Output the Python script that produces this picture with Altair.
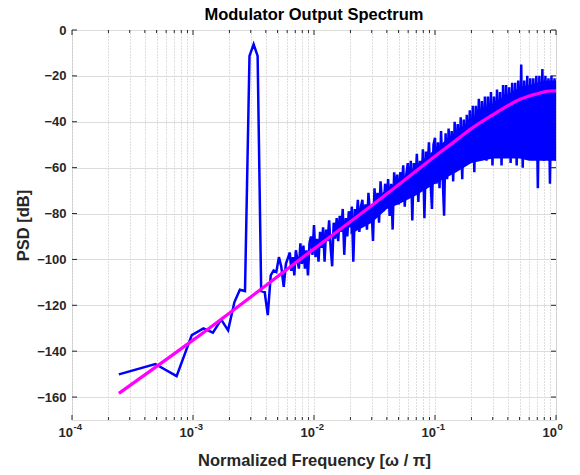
import altair as alt
import pandas as pd

FONT = "Liberation Sans"
INK = "#262626"

# ---- data ----
# sparse low-frequency FFT bins (normalized frequency, PSD dB)
low_freq = [2.44e-4, 4.88e-4, 7.32e-4, 9.77e-4, 1.22e-3, 1.46e-3, 1.71e-3, 1.95e-3,
            2.20e-3, 2.44e-3, 2.69e-3, 2.93e-3, 3.17e-3, 3.42e-3, 3.66e-3, 3.91e-3,
            4.15e-3, 4.39e-3, 4.64e-3, 4.88e-3, 5.13e-3, 5.37e-3, 5.62e-3, 5.86e-3]
low_psd = [-150.1, -145.6, -150.9, -133.0, -130.1, -131.9, -126.2, -130.9,
           -118.6, -113.2, -113.8, -11.3, -6.2, -11.3, -113.8, -114.2,
           -124.3, -107.0, -104.8, -105.5, -99.0, -103.3, -112.0, -101.9]

# dense noisy part (peaks and dips)
dense_freq = [
    0.006310, 0.006494, 0.006683, 0.006879, 0.007079, 0.007286, 0.007499, 0.007718,
    0.007943, 0.008175, 0.008414, 0.008660, 0.008913, 0.009173, 0.009441, 0.009716,
    0.01000, 0.01029, 0.01059, 0.01090, 0.01122, 0.01155, 0.01189, 0.01223,
    0.01259, 0.01296, 0.01334, 0.01373, 0.01413, 0.01454, 0.01496, 0.01540,
    0.01585, 0.01631, 0.01679, 0.01728, 0.01778, 0.01831, 0.01884, 0.01939,
    0.01995, 0.02054, 0.02113, 0.02176, 0.02239, 0.02304, 0.02371, 0.02441,
    0.02512, 0.02586, 0.02661, 0.02739, 0.02818, 0.02901, 0.02985, 0.03073,
    0.03162, 0.03255, 0.03350, 0.03448, 0.03548, 0.03652, 0.03758, 0.03869,
    0.03981, 0.04098, 0.04217, 0.04341, 0.04467, 0.04597, 0.04732, 0.04870,
    0.05012, 0.05158, 0.05309, 0.05464, 0.05623, 0.05788, 0.05957, 0.06131,
    0.06310, 0.06494, 0.06683, 0.06879, 0.07079, 0.07286, 0.07499, 0.07718,
    0.07943, 0.08175, 0.08414, 0.08660, 0.08913, 0.09173, 0.09441, 0.09716,
    0.1000, 0.1029, 0.1059, 0.1090, 0.1122, 0.1155, 0.1189, 0.1223,
    0.1259, 0.1296, 0.1334, 0.1373, 0.1413, 0.1454, 0.1496, 0.1540,
    0.1585, 0.1631, 0.1679, 0.1728, 0.1778, 0.1831, 0.1884, 0.1939,
    0.1995, 0.2054, 0.2113, 0.2176, 0.2239, 0.2304, 0.2371, 0.2441,
    0.2512, 0.2586, 0.2661, 0.2739, 0.2818, 0.2901, 0.2985, 0.3073,
    0.3162, 0.3255, 0.3350, 0.3448, 0.3548, 0.3652, 0.3758, 0.3869,
    0.3981, 0.4098, 0.4217, 0.4341, 0.4467, 0.4597, 0.4732, 0.4870,
    0.5012, 0.5158, 0.5309, 0.5464, 0.5623, 0.5788, 0.5957, 0.6131,
    0.6310, 0.6494, 0.6683, 0.6879, 0.7079, 0.7286, 0.7499, 0.7718,
    0.7943, 0.8175, 0.8414, 0.8660, 0.8913, 0.9173, 0.9441, 0.9716, 1.0]
dense_psd = [
    -97, -105, -99, -107, -96, -100, -104, -93,
    -102, -94, -104, -96, -107, -93, -90, -98,
    -85, -99, -91, -101, -88, -95, -86, -101,
    -87, -92, -83, -95, -103, -84, -91, -82,
    -92, -81, -88, -78, -98, -82, -90, -79,
    -86, -77, -101, -78, -83, -74, -88, -77,
    -74, -85, -76, -87, -71, -80, -77, -92,
    -69, -79, -71, -84, -66, -75, -79, -67,
    -76, -65, -81, -67, -87, -62, -72, -63,
    -76, -62, -69, -59, -77, -63, -58, -72,
    -57, -83, -58, -68, -54, -75, -57, -69,
    -52, -82, -53, -62, -49, -65, -78, -50,
    -47, -67, -49, -69, -44, -63, -81, -45,
    -65, -43, -61, -44, -66, -40, -60, -41,
    -60, -38, -65, -39, -59, -37, -56, -35,
    -57, -33, -62, -33, -53, -30, -55, -31,
    -53, -29, -57, -29, -52, -27, -59, -29,
    -51, -26, -53, -27, -59, -24, -50, -24,
    -51, -25, -58, -23, -52, -23, -59, -22,
    -54, -15, -60, -22, -51, -20, -55, -21,
    -55, -21, -50, -20, -69, -20, -52, -17,
    -57, -20, -52, -21, -67, -20, -54, -21, -57]

# solid core of the noise band
band_freq = [0.02, 0.03, 0.04, 0.05, 0.07, 0.1, 0.15, 0.2, 0.3, 0.4, 0.5, 0.6, 0.7, 0.8, 0.9, 1.0]
band_hi = [-83, -76, -69, -66, -59, -52, -44, -39, -32, -28, -25, -24, -23, -22, -22, -22]
band_lo = [-89, -84, -78, -76, -72, -67, -62, -58, -56, -56, -56, -57, -57, -57, -57, -57]

# theoretical noise shaping curve (magenta)
ntf_freq = [2.44e-4, 1e-3, 1e-2, 3e-2, 0.05, 0.1, 0.15, 0.2, 0.3, 0.4, 0.5, 0.6, 0.7, 0.8, 0.9, 1.0]
ntf_psd = [-158.4, -135.2, -95.4, -76.5, -67.5, -55.0, -48.0, -43.0, -37.0, -33.0,
           -30.3, -28.8, -27.8, -27.0, -26.6, -26.5]

# axes
x_decades = [1e-4, 1e-3, 1e-2, 1e-1, 1.0]
x_exponents = ["-4", "-3", "-2", "-1", "0"]
x_minor = [m * d for d in [1e-4, 1e-3, 1e-2, 1e-1] for m in range(2, 10)]
y_ticks = [-160, -140, -120, -100, -80, -60, -40, -20, 0]

W, H = 484, 390

spec_df = pd.DataFrame({"f": low_freq + dense_freq, "psd": low_psd + dense_psd})
band_df = pd.DataFrame({"f": band_freq, "hi": band_hi, "lo": band_lo})
ntf_df = pd.DataFrame({"f": ntf_freq, "psd": ntf_psd})
xlab_df = pd.DataFrame({"f": x_decades, "e": x_exponents, "b": ["10"] * len(x_decades)})

xscale = alt.Scale(type="log", domain=[1e-4, 1])
yscale = alt.Scale(domain=[-170, 0])

x_axis = alt.Axis(
    values=x_decades + x_minor,
    grid=True, gridDash=[1, 2], gridColor="#bdbdbd", gridWidth=1,
    tickSize=0, domain=False, labels=False,
    title="Normalized Frequency [ω / π]", titleFont=FONT, titleFontSize=16.5,
    titleFontWeight="bold", titleColor=INK, titlePadding=32,
)
y_axis = alt.Axis(
    values=y_ticks, grid=True, gridColor="#dcdcdc", gridWidth=1,
    tickSize=0, domain=False,
    labelFont=FONT, labelFontSize=13, labelFontWeight="bold", labelColor=INK, labelPadding=6,
    title="PSD [dB]", titleFont=FONT, titleFontSize=16.5, titleFontWeight="bold",
    titleColor=INK, titlePadding=5,
)

band = alt.Chart(band_df).mark_area(color="#0000ff", opacity=1, clip=True).encode(
    x=alt.X("f:Q", scale=xscale, axis=x_axis),
    y=alt.Y("hi:Q", scale=yscale, axis=y_axis),
    y2="lo:Q",
)
spec = alt.Chart(spec_df).mark_line(color="#0000ff", strokeWidth=2.5, clip=True).encode(
    x=alt.X("f:Q", scale=xscale), y=alt.Y("psd:Q", scale=yscale)
)
ntf = alt.Chart(ntf_df).mark_line(color="#ff00ff", strokeWidth=3.2, interpolate="monotone", clip=True).encode(
    x=alt.X("f:Q", scale=xscale), y=alt.Y("psd:Q", scale=yscale)
)

# x tick labels: base "10" and superscript exponent
xlab_base = alt.Chart(xlab_df).mark_text(
    font=FONT, fontSize=13, fontWeight="bold", color=INK, align="right", baseline="alphabetic", dx=1
).encode(x=alt.X("f:Q", scale=xscale), y=alt.value(H + 17), text="b:N")
xlab_exp = alt.Chart(xlab_df).mark_text(
    font=FONT, fontSize=9.5, fontWeight="bold", color=INK, align="left", baseline="alphabetic", dx=1.5
).encode(x=alt.X("f:Q", scale=xscale), y=alt.value(H + 10), text="e:N")

xmaj_df = pd.DataFrame({"f": x_decades})
xmin_df = pd.DataFrame({"f": x_minor})
yt_df = pd.DataFrame({"v": y_ticks})

tick_style = dict(color=INK, strokeWidth=1)
ticks = [
    alt.Chart(xmaj_df).mark_rule(**tick_style).encode(x=alt.X("f:Q", scale=xscale), y=alt.value(H), y2=alt.value(H - 5)),
    alt.Chart(xmaj_df).mark_rule(**tick_style).encode(x=alt.X("f:Q", scale=xscale), y=alt.value(0), y2=alt.value(5)),
    alt.Chart(xmin_df).mark_rule(**tick_style).encode(x=alt.X("f:Q", scale=xscale), y=alt.value(H), y2=alt.value(H - 3)),
    alt.Chart(xmin_df).mark_rule(**tick_style).encode(x=alt.X("f:Q", scale=xscale), y=alt.value(0), y2=alt.value(3)),
    alt.Chart(yt_df).mark_rule(**tick_style).encode(y=alt.Y("v:Q", scale=yscale), x=alt.value(0), x2=alt.value(5)),
    alt.Chart(yt_df).mark_rule(**tick_style).encode(y=alt.Y("v:Q", scale=yscale), x=alt.value(W), x2=alt.value(W - 5)),
]

chart = alt.layer(band, spec, ntf, *ticks, xlab_base, xlab_exp).properties(
    width=W, height=H,
    title=alt.TitleParams("Modulator Output Spectrum", font=FONT, fontSize=16.5,
                          fontWeight="bold", color="#000000", anchor="middle", offset=1),
    autosize=alt.AutoSizeParams(type="none"),
    padding={"left": 72, "top": 30, "right": 24, "bottom": 55},
).configure_view(stroke=INK, strokeWidth=1.5).configure(background="white")

chart.save("out.html", embed_options={"renderer": "svg", "actions": False})
